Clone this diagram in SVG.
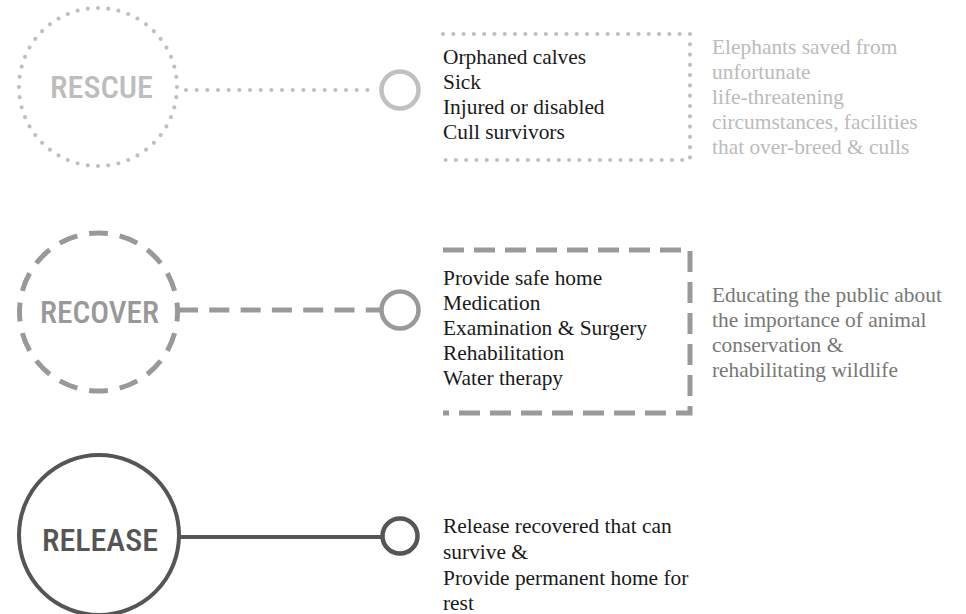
<svg xmlns="http://www.w3.org/2000/svg" width="966" height="614" viewBox="0 0 966 614">
<style>
.bg{fill:#fff}
.lbl{font-family:"Roboto Condensed","Liberation Sans Narrow",Roboto,"Liberation Sans",Arial,sans-serif;font-size:32px;font-weight:500;text-anchor:middle}
.txt{font-family:"Liberation Serif","Times New Roman",serif;font-size:21.4px}
.dark{fill:#1a1a1a}
.c1{stroke:#c0c0c0;fill:none}
.c2{stroke:#999;fill:none}
.c3{stroke:#555;fill:none}
.dots{stroke-width:4.2;stroke-linecap:round}
.dash{stroke-width:5}
</style>
<rect class="bg" width="966" height="614"/>

<g id="rescue">
  <circle class="c1 dots" cx="98" cy="87" r="79" pathLength="480" stroke-dasharray="0 10"/>
  <text class="lbl" x="101.5" y="98" fill="#bdbdbd" textLength="103" lengthAdjust="spacingAndGlyphs">RESCUE</text>
</g>
<g id="rescue-end">
  <circle class="c1" cx="400" cy="90" r="18.5" stroke-width="4.5"/>
</g>
<g id="rescue-list">
  <polyline class="c1 dots" points="443,34 690,34 690,160 443,160" stroke-dasharray="0 10.29"/>
  <text class="txt dark"><tspan x="443" y="64">Orphaned calves</tspan><tspan x="443" y="89">Sick</tspan><tspan x="443" y="114">Injured or disabled</tspan><tspan x="443" y="139">Cull survivors</tspan></text>
</g>
<g id="rescue-note">
  <text class="txt" fill="#bbb"><tspan x="712" y="54">Elephants saved from</tspan><tspan x="712" y="79">unfortunate</tspan><tspan x="712" y="104">life-threatening</tspan><tspan x="712" y="129">circumstances, facilities</tspan><tspan x="712" y="154">that over-breed &amp; culls</tspan></text>
</g>

<g id="recover">
  <circle class="c2 dash" cx="98.5" cy="312" r="79" pathLength="496" stroke-dasharray="19 12" stroke-dashoffset="9.5"/>
  <text class="lbl" x="99.5" y="322.5" fill="#999" textLength="119" lengthAdjust="spacingAndGlyphs">RECOVER</text>
</g>
<g id="recover-end">
  <circle class="c2" cx="400" cy="310" r="18.5" stroke-width="4.5"/>
</g>
<g id="recover-list">
  <polyline class="c2 dash" points="443,250 690,250 690,413 443,413" stroke-dasharray="21 10"/>
  <text class="txt dark"><tspan x="443" y="285">Provide safe home</tspan><tspan x="443" y="310">Medication</tspan><tspan x="443" y="335">Examination &amp; Surgery</tspan><tspan x="443" y="360">Rehabilitation</tspan><tspan x="443" y="385">Water therapy</tspan></text>
</g>
<g id="recover-note">
  <text class="txt" fill="#777"><tspan x="712" y="302">Educating the public about</tspan><tspan x="712" y="327">the importance of animal</tspan><tspan x="712" y="352">conservation &amp;</tspan><tspan x="712" y="377">rehabilitating wildlife</tspan></text>
</g>

<g id="release">
  <circle class="c3" cx="99" cy="535" r="80" stroke-width="4"/>
  <text class="lbl" x="100" y="551" fill="#555" textLength="116" lengthAdjust="spacingAndGlyphs">RELEASE</text>
</g>
<g id="release-end">
  <circle class="c3" cx="400" cy="536" r="17.5" stroke-width="4.5"/>
</g>
<g id="release-list">
  <text class="txt dark"><tspan x="443" y="533">Release recovered that can</tspan><tspan x="443" y="559">survive &amp;</tspan><tspan x="443" y="585">Provide permanent home for</tspan><tspan x="443" y="610">rest</tspan></text>
</g>

<g id="connectors">
  <line class="c1 dots" x1="186" y1="90" x2="378" y2="90" stroke-dasharray="0 10.67"/>
  <line class="c2 dash" x1="178" y1="310" x2="382" y2="310" stroke-dasharray="20 11.3"/>
  <line class="c3" x1="179" y1="537" x2="383" y2="537" stroke-width="4"/>
</g>
</svg>
